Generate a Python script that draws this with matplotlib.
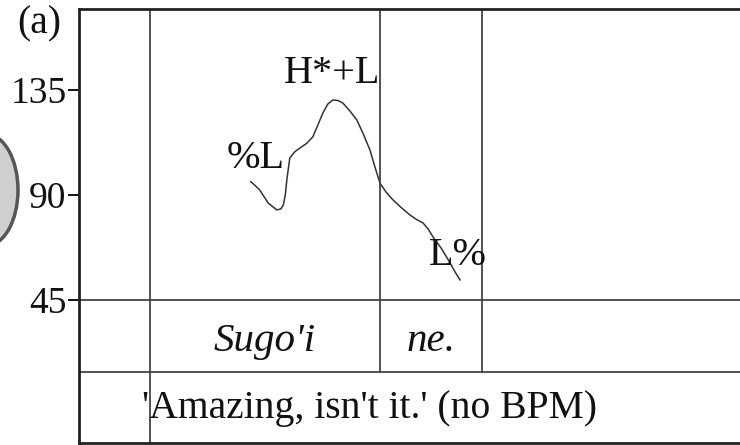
import matplotlib
matplotlib.use('Agg')
import matplotlib.pyplot as plt
from matplotlib.patches import Ellipse

# pitch track (time in s, f0 in Hz)
t = [0.343, 0.352, 0.361, 0.378, 0.395, 0.403, 0.408, 0.412, 0.415, 0.421,
     0.431, 0.441, 0.454, 0.467, 0.477, 0.487, 0.497, 0.507, 0.517, 0.527,
     0.541, 0.555, 0.568, 0.581, 0.591, 0.601, 0.614, 0.627, 0.644, 0.661,
     0.674, 0.687, 0.697, 0.707, 0.724, 0.741, 0.751, 0.761]
f0 = [95.7, 94.0, 92.1, 86.5, 83.6, 84.0, 85.7, 90.0, 96.4, 105.9,
      108.5, 110.1, 112.0, 114.9, 120.0, 125.1, 129.0, 130.7, 130.5, 129.4,
      126.0, 122.1, 116.0, 109.3, 102.0, 95.1, 91.0, 87.9, 84.5, 81.4,
      79.5, 78.0, 75.5, 72.0, 67.0, 60.9, 57.0, 53.6]

# tier boundaries (s)
word_bounds = [0.142, 0.601, 0.805]
words = ["Sugo'i", "ne."]
tones = ["%L", "H*+L", "L%"]
tone_pos = [(0.353, 105.7), (0.505, 142), (0.757, 64)]
translation = "'Amazing, isn't it.' (no BPM)"
yticks = [45, 90, 135]

plt.rcParams['font.family'] = ['Liberation Serif', 'DejaVu Serif']

fig = plt.figure(figsize=(7.4, 4.45), dpi=100)
ax = fig.add_axes([79 / 740, 2 / 445, 681 / 740, 434 / 445])
ax.set_xlim(0, 1.36)
ax.set_ylim(-16.3, 169.7)

ax.plot(t, f0, color='#333333', lw=1.1)

tier1 = 45
tier2 = 14.1
ax.axhline(tier1, color='#444444', lw=1.3)
ax.axhline(tier2, color='#444444', lw=1.3)
ax.axvline(word_bounds[0], color='#444444', lw=1.3)
for b in word_bounds[1:]:
    ax.axvline(b, ymin=(tier2 + 16.3) / 186.0, color='#444444', lw=1.3)

for lab, (x, y) in zip(tones, tone_pos):
    ax.text(x, y, lab, fontsize=29, ha='center', va='center', color='#111111')

for i, w in enumerate(words):
    xc = (word_bounds[i] + word_bounds[i + 1]) / 2
    ax.text(xc, 27.4, w, fontsize=29.5, style='italic', ha='center', va='center',
            color='#111111')

ax.text(0.58, -1.5, translation, fontsize=28.5, ha='center', va='center',
        color='#111111')

ax.set_yticks(yticks)
ax.set_xticks([])
ax.tick_params(axis='y', length=8, width=1.3, pad=1, labelsize=27,
               labelcolor='#111111')
for s in ['left', 'top', 'bottom']:
    ax.spines[s].set_linewidth(2)
    ax.spines[s].set_color('#222222')
ax.spines['right'].set_visible(False)

fig.text(17 / 740, 1 - 24 / 445, "(a)", fontsize=28.5, ha='left', va='center',
         color='#111111')

# grey egg-shaped blob at the left edge
egg = Ellipse((-14 / 740, 1 - 190 / 445), 64 / 740, 112 / 445,
              transform=fig.transFigure, facecolor='#cfcfcf',
              edgecolor='#555555', lw=2.5, clip_on=False)
fig.patches.append(egg)

fig.savefig('out.png', dpi=100)
